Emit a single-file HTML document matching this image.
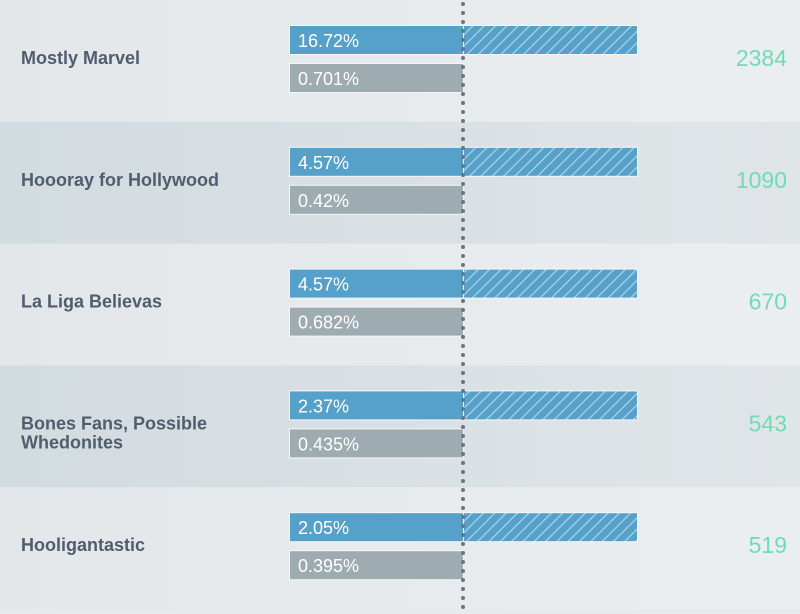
<!DOCTYPE html>
<html><head><meta charset="utf-8"><style>
body{margin:0;width:800px;height:609px;overflow:hidden;font-family:"Liberation Sans",sans-serif;background:#e6eaec}
</style></head><body>
<svg id="chart" width="800" height="609" xmlns="http://www.w3.org/2000/svg">
<defs>
<pattern id="hatch" patternUnits="userSpaceOnUse" width="8" height="8" patternTransform="rotate(45)">
<rect width="8" height="8" fill="#55a1c9"/><rect x="0" width="1.3" height="8" fill="#a9d0e6"/>
</pattern>
<linearGradient id="lightBg" x1="0" x2="1"><stop offset="0" stop-color="#e3e7ea"/><stop offset="1" stop-color="#ebeef0"/></linearGradient>
<linearGradient id="darkBg" x1="0" x2="1"><stop offset="0" stop-color="#d2dbe0"/><stop offset="1" stop-color="#e0e5e8"/></linearGradient>
</defs>
</svg>
<script>
const categories=["Mostly Marvel","Hoooray for Hollywood","La Liga Believas","Bones Fans, Possible|Whedonites","Hooligantastic"];
const bluePct=["16.72%","4.57%","4.57%","2.37%","2.05%"];
const grayPct=["0.701%","0.42%","0.682%","0.435%","0.395%"];
const counts=[2384,1090,670,543,519];
const svg=document.getElementById('chart');
const NS='http://www.w3.org/2000/svg';
function mk(tag,attrs,parent){const e=document.createElementNS(NS,tag);for(const k in attrs)e.setAttribute(k,attrs[k]);(parent||svg).appendChild(e);return e;}
const rowH=609/categories.length;
categories.forEach((c,i)=>{
  const top=i*rowH;
  const g=mk('g',{});
  
  
  const bg=mk('rect',{x:0,y:top,width:800,height:rowH+1,fill:i%2?'url(#darkBg)':'url(#lightBg)'},g);
  
  
  const lines=c.split('|');
  const lbl=mk('text',{x:21,y:top+64,'font-size':18,'font-weight':'bold',fill:'#4f5d6e'},g);
  
  
  lines.forEach((l,j)=>{const t=mk('tspan',{x:21,dy:j?19:0},lbl);t.textContent=l;});
  const b=mk('rect',{x:289.5,y:top+25.5,width:174,height:29,fill:'#55a1c9',stroke:'#f4f7f9','stroke-width':1},g);
  
  
  const h=mk('rect',{x:463.5,y:top+25.5,width:174,height:29,fill:'url(#hatch)',stroke:'#f4f7f9','stroke-width':1},g);
  
  
  const bt=mk('text',{x:298,y:top+47,'font-size':18,fill:'#fff'},g);bt.textContent=bluePct[i];
  
  
  const gr=mk('rect',{x:289.5,y:top+63.5,width:174,height:29,fill:'#9eacb1',stroke:'#f4f7f9','stroke-width':1},g);
  
  
  const gt=mk('text',{x:298,y:top+85,'font-size':18,fill:'#fff'},g);gt.textContent=grayPct[i];
  
  
  const ct=mk('text',{x:787,y:top+66,'font-size':23,fill:'#6fdcb4','text-anchor':'end'},g);ct.textContent=counts[i];
  
  
});
const ref=mk('line',{x1:463,y1:4,x2:463,y2:609,stroke:'#6b7480','stroke-width':4,'stroke-linecap':'round','stroke-dasharray':'0 9'});


</script>
</body></html>
